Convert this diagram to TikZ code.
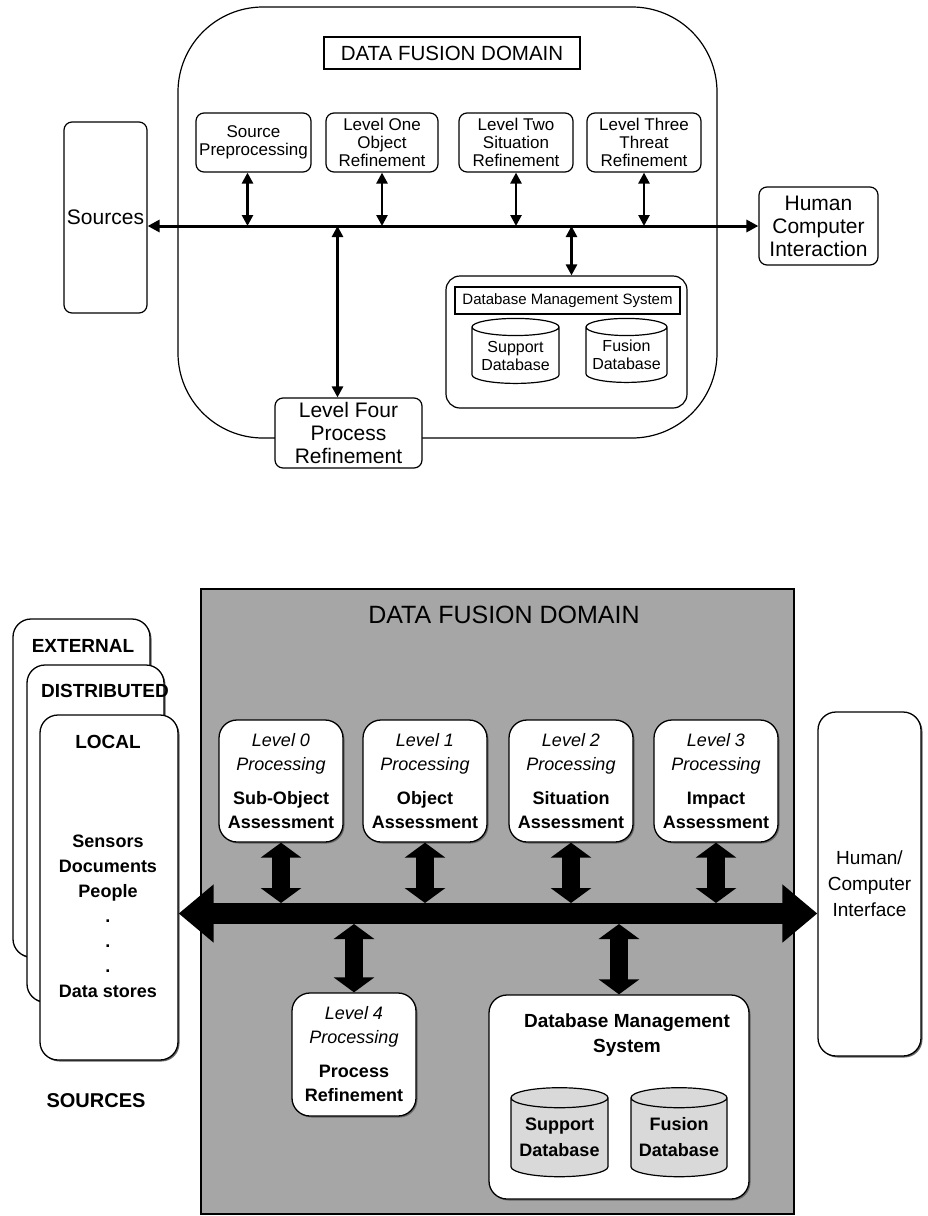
\documentclass[tikz,border=0pt]{standalone}
\usepackage{fontspec}
\setmainfont{Liberation Sans}
\usetikzlibrary{arrows.meta,shapes.geometric,shadows}
\definecolor{domaingray}{HTML}{A6A6A6}
\definecolor{dbgray}{HTML}{D9D9D9}
\newcommand{\fsz}[2]{\fontsize{#1}{#2}\selectfont}

\begin{document}
\begin{tikzpicture}[x=1pt, y=-1pt,
  box/.style={draw,line width=1.2pt,rounded corners=8pt,inner sep=0pt,align=center,font=\fsz{17}{18}},
  bigbox/.style={draw,line width=1.2pt,rounded corners=#1,inner sep=0pt},
  db/.style={draw,line width=1.2pt,cylinder,shape border rotate=90,inner sep=0pt,align=center},
  thin arrow/.style={line width=2.6pt,{Triangle[length=11pt,width=11pt]}-{Triangle[length=11pt,width=11pt]}},
  rbox/.style={draw,fill=white,line width=1.3pt,rounded corners=18pt,inner sep=0pt,align=center,
    drop shadow={shadow xshift=1.5pt,shadow yshift=-1.5pt,fill=black!60,opacity=1}},
  lvl/.style={rbox,minimum width=124pt,minimum height=122pt,font=\fsz{18}{24}},
  fat arrow/.style={line width=18pt,{Triangle[length=15pt,width=40pt]}-{Triangle[length=15pt,width=40pt]}},
  srctxt/.style={font=\fsz{19}{25}\bfseries,inner sep=0pt,align=center}]
\useasboundingbox (0,0) rectangle (927,1216);

% upper diagram
\node[bigbox=85pt,minimum width=539pt,minimum height=431pt] (dom) at (447.5,222.5) {};
\node[draw,line width=1.2pt,minimum width=256pt,minimum height=32pt,inner sep=0pt,font=\fsz{20.5}{22}] (domtitle) at (452,53) {DATA FUSION DOMAIN};
\node[box,minimum width=83pt,minimum height=191pt,font=\fsz{21}{23}] (src) at (105.5,217.5) {Sources};
\node[box,minimum width=115pt,minimum height=59pt] (pre) at (253.5,142.5) {Source\\Preprocessing};
\node[box,minimum width=112pt,minimum height=59pt] (one) at (382,142.5) {Level One\\Object\\Refinement};
\node[box,minimum width=114pt,minimum height=59pt] (two) at (516,142.5) {Level Two\\Situation\\Refinement};
\node[box,minimum width=114pt,minimum height=59pt] (three) at (644,142.5) {Level Three\\Threat\\Refinement};
\node[box,minimum width=119pt,minimum height=78pt,font=\fsz{21}{23}] (hci) at (818.5,226) {Human\\Computer\\Interaction};
\node[box,fill=white,minimum width=147pt,minimum height=70pt,font=\fsz{21}{23}] (four) at (348.5,433) {Level Four\\Process\\Refinement};
\node[box,minimum width=241pt,minimum height=132pt,rounded corners=14pt] (dbms) at (566.5,342) {};
\node[draw,line width=1.2pt,minimum width=225pt,minimum height=27pt,inner sep=0pt,font=\fsz{15}{17}] (dbmstitle) at (567.5,300.5) {Database Management System};
\node[db,minimum width=87pt,minimum height=65pt,aspect=0.25,font=\fsz{16}{18}] (support) at (515.5,355.5) {Support\\Database};
\node[db,minimum width=81pt,minimum height=64pt,aspect=0.25,font=\fsz{16}{18}] (fusion) at (626.5,355) {Fusion\\Database};

\coordinate (bus) at (src.east |- hci.west);
\draw[line width=3pt,{Triangle[length=12pt,width=12pt]}-{Triangle[length=12pt,width=12pt]}] (bus) -- (hci.west);
\draw[thin arrow] ([xshift=-6pt]pre.south) -- ([xshift=-6pt]pre.south |- bus);
\draw[thin arrow] (one.south) -- (one.south |- bus);
\draw[thin arrow] (two.south) -- (two.south |- bus);
\draw[thin arrow] (three.south) -- (three.south |- bus);
\draw[thin arrow] ([xshift=-11pt]four.north |- bus) -- ([xshift=-11pt]four.north);
\draw[thin arrow] ([xshift=5pt]dbms.north |- bus) -- ([xshift=5pt]dbms.north);

% lower diagram
\node[draw,fill=domaingray,line width=1.3pt,minimum width=593pt,minimum height=625pt,inner sep=0pt] (dom2) at (497.5,901.5) {};
\node[font=\fsz{25}{27},inner sep=0pt] (dom2title) at (504,615) {DATA FUSION DOMAIN};
\node[rbox,minimum width=137pt,minimum height=338pt] (ext) at (81.5,788) {};
\node[srctxt] (extlbl) at (83,646) {EXTERNAL};
\node[rbox,minimum width=137pt,minimum height=337pt] (dist) at (95.5,833.5) {};
\node[srctxt] (distlbl) at (105,691) {DISTRIBUTED};
\node[rbox,minimum width=138pt,minimum height=345pt] (local) at (109,887.5) {};
\node[srctxt] (locallbl) at (108,742) {LOCAL};
\node[srctxt,font=\fsz{18}{25}\bfseries] (stores) at (108,916) {Sensors\\Documents\\People\\.\\.\\.\\Data stores};
\node[srctxt,font=\fsz{20}{22}\bfseries] (sources) at (96,1101) {SOURCES};

\node[lvl] (l0) at (281,781) {\textit{Level 0}\\\textit{Processing}\\[10pt]\textbf{Sub-Object}\\\textbf{Assessment}};
\node[lvl] (l1) at (425,781) {\textit{Level 1}\\\textit{Processing}\\[10pt]\textbf{Object}\\\textbf{Assessment}};
\node[lvl] (l2) at (571,781) {\textit{Level 2}\\\textit{Processing}\\[10pt]\textbf{Situation}\\\textbf{Assessment}};
\node[lvl] (l3) at (716,781) {\textit{Level 3}\\\textit{Processing}\\[10pt]\textbf{Impact}\\\textbf{Assessment}};
\node[lvl,minimum height=123pt] (four2) at (354,1054.5) {\textit{Level 4}\\\textit{Processing}\\[10pt]\textbf{Process}\\\textbf{Refinement}};

\node[rbox,minimum width=260pt,minimum height=204pt] (dbms2) at (619,1097) {};
\node[srctxt,font=\fsz{19}{25}\bfseries] (dbms2title) at (627,1035.5) {Database Management\\System};
\node[db,fill=dbgray,minimum width=97pt,minimum height=89pt,aspect=0.25,font=\fsz{18}{26}\bfseries] (support2) at (559.5,1137.5) {Support\\Database};
\node[db,fill=dbgray,minimum width=96pt,minimum height=89pt,aspect=0.25,font=\fsz{18}{26}\bfseries] (fusion2) at (679,1137.5) {Fusion\\Database};
\node[rbox,minimum width=103pt,minimum height=344pt,font=\fsz{19}{26}] (hci2) at (869.5,884) {Human/\\Computer\\Interface};

\coordinate (bus2) at ([yshift=-26pt]local.east);
\coordinate (bus2top) at ([yshift=10.5pt]bus2);
\coordinate (bus2bot) at ([yshift=-10.5pt]bus2);
\draw[line width=21pt,{Triangle[length=35pt,width=56pt]}-{Triangle[length=35pt,width=56pt]}] (bus2) -- (bus2 -| hci2.west);
\draw[fat arrow] (l0.south) -- (l0.south |- bus2top);
\draw[fat arrow] (l1.south) -- (l1.south |- bus2top);
\draw[fat arrow] (l2.south) -- (l2.south |- bus2top);
\draw[fat arrow] (l3.south) -- (l3.south |- bus2top);
\draw[fat arrow] (four2.north |- bus2bot) -- (four2.north);
\draw[fat arrow] (dbms2.north |- bus2bot) -- (dbms2.north);
\end{tikzpicture}
\end{document}
